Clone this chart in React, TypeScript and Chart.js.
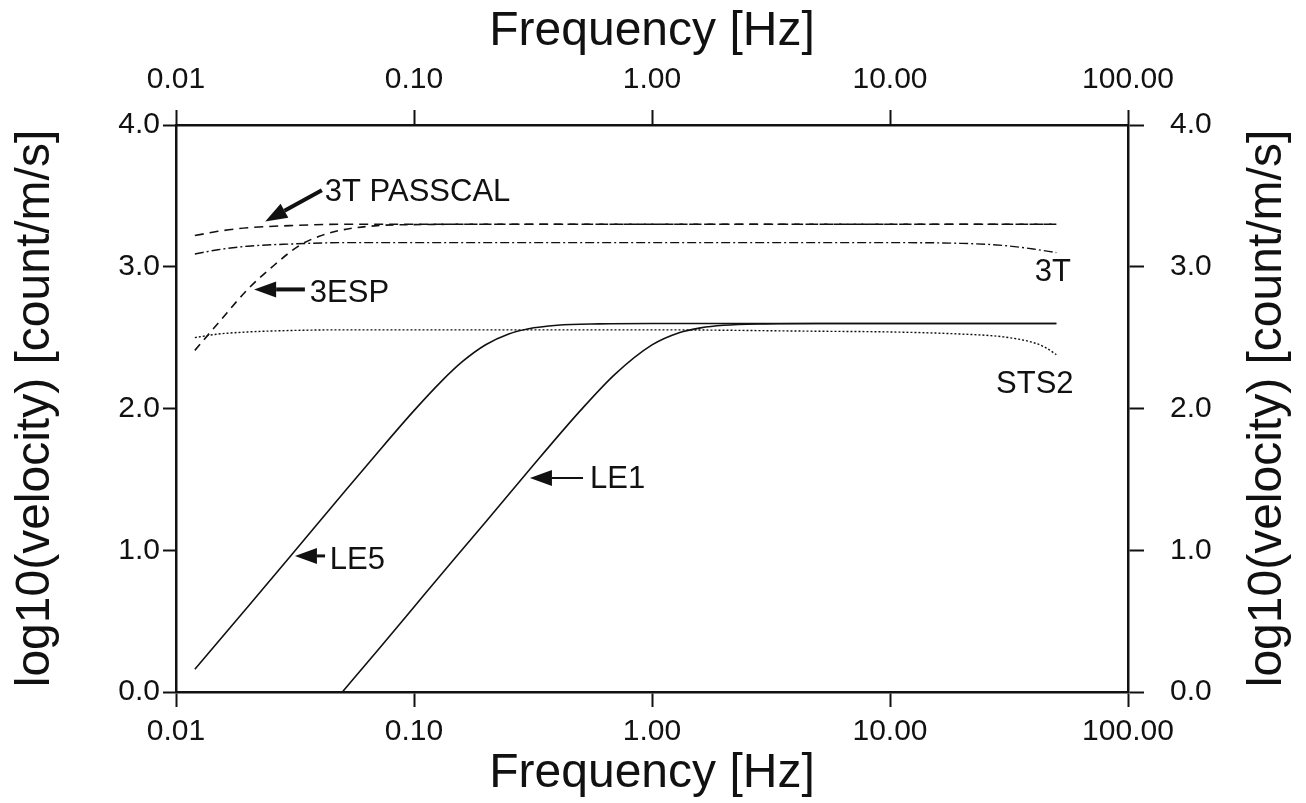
import React, { useEffect, useRef } from 'react';
import { Chart, registerables } from 'chart.js';

Chart.register(...registerables);

// ---- axis ticks ----
const X_TICKS = [0.01, 0.1, 1, 10, 100];
const Y_TICKS = [0, 1, 2, 3, 4];

// ---- series (frequency [Hz], log10 velocity response) ----
const F_3T_PASSCAL = [0.012, 0.015, 0.02, 0.03, 0.05, 0.1, 1, 10, 50];
const V_3T_PASSCAL = [3.22, 3.25, 3.275, 3.29, 3.3, 3.3, 3.3, 3.3, 3.3];

const F_3T = [0.012, 0.015, 0.02, 0.03, 0.05, 0.1, 1, 10, 20, 30, 40, 50];
const V_3T = [3.09, 3.12, 3.145, 3.16, 3.17, 3.17, 3.17, 3.17, 3.165, 3.15, 3.125, 3.1];

const F_3ESP = [0.012, 0.015, 0.02, 0.025, 0.033, 0.04, 0.05, 0.07, 0.1, 0.2, 1, 10, 50];
const V_3ESP = [2.41, 2.6, 2.84, 2.99, 3.15, 3.215, 3.26, 3.29, 3.297, 3.3, 3.3, 3.3, 3.3];

const F_STS2 = [0.012, 0.015, 0.02, 0.03, 0.05, 0.1, 1, 5, 10, 20, 30, 40, 45, 50];
const V_STS2 = [2.5, 2.525, 2.54, 2.55, 2.555, 2.555, 2.555, 2.545, 2.54, 2.525, 2.505, 2.465, 2.43, 2.38];

const F_LE5 = [0.012, 0.02, 0.03, 0.05, 0.07, 0.1, 0.13, 0.16, 0.2, 0.25, 0.3, 0.4, 0.6, 1, 10, 50];
const V_LE5 = [0.16, 0.6, 0.95, 1.395, 1.685, 1.985, 2.19, 2.332, 2.45, 2.526, 2.561, 2.587, 2.597, 2.6, 2.6, 2.6];

const F_LE1 = [0.05, 0.07, 0.1, 0.15, 0.2, 0.3, 0.5, 0.7, 1, 1.3, 1.6, 2, 3, 5, 10, 50];
const V_LE1 = [0.0, 0.29, 0.6, 0.952, 1.2, 1.552, 1.985, 2.243, 2.449, 2.535, 2.569, 2.587, 2.597, 2.6, 2.6, 2.6];

// ---- annotation labels (data coordinates) ----
const LABEL_TEXT = ['3T PASSCAL', '3ESP', 'LE5', 'LE1', '3T', 'STS2'];
const LABEL_F = [0.0422, 0.0365, 0.0443, 0.549, 40.6, 27.9];
const LABEL_V = [3.527, 2.815, 0.93, 1.496, 2.963, 2.173];

// arrows: tail -> tip
const ARROW_TAIL_F = [0.041, 0.0348, 0.0423, 0.513];
const ARROW_TAIL_V = [3.54, 2.84, 0.96, 1.51];
const ARROW_TIP_F = [0.0237, 0.0213, 0.0316, 0.307];
const ARROW_TIP_V = [3.32, 2.84, 0.96, 1.51];
const ARROW_WIDTH = [4, 4, 3, 2];

const FONT = '"Liberation Sans", Arial, Helvetica, sans-serif';
const INK = '#111';

const pts = (f: number[], v: number[]) => f.map((x, i) => ({ x, y: v[i] }));

const annotPlugin = {
  id: 'annot',
  afterDatasetsDraw(chart: any) {
    const { ctx, scales, chartArea } = chart;
    const x = scales.x;
    const y = scales.y;
    ctx.save();
    ctx.fillStyle = INK;
    ctx.strokeStyle = INK;
    ctx.font = `31px ${FONT}`;
    ctx.textBaseline = 'middle';
    ctx.textAlign = 'left';
    LABEL_TEXT.forEach((t, i) => {
      ctx.fillText(t, x.getPixelForValue(LABEL_F[i]), y.getPixelForValue(LABEL_V[i]));
    });
    ARROW_TIP_F.forEach((_, i) => {
      const x0 = x.getPixelForValue(ARROW_TAIL_F[i]);
      const y0 = y.getPixelForValue(ARROW_TAIL_V[i]);
      const x1 = x.getPixelForValue(ARROW_TIP_F[i]);
      const y1 = y.getPixelForValue(ARROW_TIP_V[i]);
      const ang = Math.atan2(y1 - y0, x1 - x0);
      const hl = 22;
      const hw = 8;
      const bx = x1 - hl * Math.cos(ang);
      const by = y1 - hl * Math.sin(ang);
      ctx.lineWidth = ARROW_WIDTH[i];
      ctx.beginPath();
      ctx.moveTo(x0, y0);
      ctx.lineTo(bx, by);
      ctx.stroke();
      ctx.beginPath();
      ctx.moveTo(x1, y1);
      ctx.lineTo(bx + hw * Math.sin(ang), by - hw * Math.cos(ang));
      ctx.lineTo(bx - hw * Math.sin(ang), by + hw * Math.cos(ang));
      ctx.closePath();
      ctx.fill();
    });
    // right axis title (reads bottom-to-top, like the left one)
    ctx.font = `48px ${FONT}`;
    ctx.textAlign = 'center';
    ctx.translate(1268, (chartArea.top + chartArea.bottom) / 2);
    ctx.rotate(-Math.PI / 2);
    ctx.fillText('log10(velocity) [count/m/s]', 0, 0);
    ctx.restore();
  },
};

export default function App() {
  const ref = useRef<HTMLCanvasElement | null>(null);
  useEffect(() => {
    document.body.style.margin = '0';
    const canvas = ref.current!;
    const lineDs = (label: string, f: number[], v: number[], dash: number[], width: number) => ({
      label,
      data: pts(f, v),
      borderColor: INK,
      borderWidth: width,
      borderDash: dash,
      pointRadius: 0,
      fill: false,
      cubicInterpolationMode: 'monotone' as const,
    });
    const xTickCb = (v: any) => Number(v).toFixed(2);
    const yTickCb = (v: any) => Number(v).toFixed(1);
    const tickFont = { family: FONT, size: 30 };
    const titleFont = { family: FONT, size: 48 };
    const chart = new Chart(canvas, {
      type: 'line',
      data: {
        datasets: [
          lineDs('3T PASSCAL', F_3T_PASSCAL, V_3T_PASSCAL, [9, 6], 1.6),
          lineDs('3T', F_3T, V_3T, [9, 3, 2, 3], 1.4),
          lineDs('3ESP', F_3ESP, V_3ESP, [8, 6], 1.6),
          lineDs('STS2', F_STS2, V_STS2, [2, 2], 1.4),
          lineDs('LE5', F_LE5, V_LE5, [], 1.6),
          lineDs('LE1', F_LE1, V_LE1, [], 1.6),
        ],
      },
      options: {
        animation: false,
        responsive: false,
        devicePixelRatio: 1,
        layout: { padding: 0 },
        plugins: { legend: { display: false }, tooltip: { enabled: false } },
        scales: {
          x: {
            type: 'logarithmic',
            position: 'bottom',
            min: 0.01,
            max: 100,
            afterBuildTicks: (s: any) => { s.ticks = X_TICKS.map((value) => ({ value })); },
            afterFit: (s: any) => { s.height = 111; },
            ticks: { callback: xTickCb, font: tickFont, color: INK, padding: 7, maxRotation: 0, autoSkip: false },
            grid: { drawOnChartArea: false, drawTicks: true, tickLength: 15, tickWidth: 2, tickColor: INK },
            border: { display: true, color: INK, width: 2.5 },
            title: { display: true, text: 'Frequency [Hz]', font: titleFont, color: INK, padding: { top: 0, bottom: 0 } },
          },
          x2: {
            type: 'logarithmic',
            position: 'top',
            min: 0.01,
            max: 100,
            afterBuildTicks: (s: any) => { s.ticks = X_TICKS.map((value) => ({ value })); },
            afterFit: (s: any) => { s.height = 125; },
            ticks: { callback: xTickCb, font: tickFont, color: INK, padding: 12, maxRotation: 0, autoSkip: false },
            grid: { drawOnChartArea: false, drawTicks: true, tickLength: 15, tickWidth: 2, tickColor: INK },
            border: { display: true, color: INK, width: 2.5 },
            title: { display: true, text: 'Frequency [Hz]', font: titleFont, color: INK, padding: { top: 3, bottom: 0 } },
          },
          y: {
            type: 'linear',
            position: 'left',
            min: 0,
            max: 4,
            afterBuildTicks: (s: any) => { s.ticks = Y_TICKS.map((value) => ({ value })); },
            afterFit: (s: any) => { s.width = 176; },
            ticks: { callback: yTickCb, font: tickFont, color: INK, padding: 3 },
            grid: { drawOnChartArea: false, drawTicks: true, tickLength: 13, tickWidth: 2, tickColor: INK },
            border: { display: true, color: INK, width: 2.5 },
            title: { display: true, text: 'log10(velocity) [count/m/s]', font: titleFont, color: INK, padding: { top: 7, bottom: 0 } },
          },
          y2: {
            type: 'linear',
            position: 'right',
            min: 0,
            max: 4,
            afterBuildTicks: (s: any) => { s.ticks = Y_TICKS.map((value) => ({ value })); },
            afterFit: (s: any) => { s.width = 178; },
            ticks: { callback: yTickCb, font: tickFont, color: INK, padding: 26 },
            grid: { drawOnChartArea: false, drawTicks: true, tickLength: 16, tickWidth: 2, tickColor: INK },
            border: { display: true, color: INK, width: 2.5 },
          },
        },
      },
      plugins: [annotPlugin],
    } as any);
    return () => chart.destroy();
  }, []);
  return (
    <div style={{ position: 'absolute', left: 0, top: 0, width: 1306, height: 803, background: '#fff' }}>
      <canvas ref={ref} width={1306} height={803} style={{ display: 'block' }} />
    </div>
  );
}
